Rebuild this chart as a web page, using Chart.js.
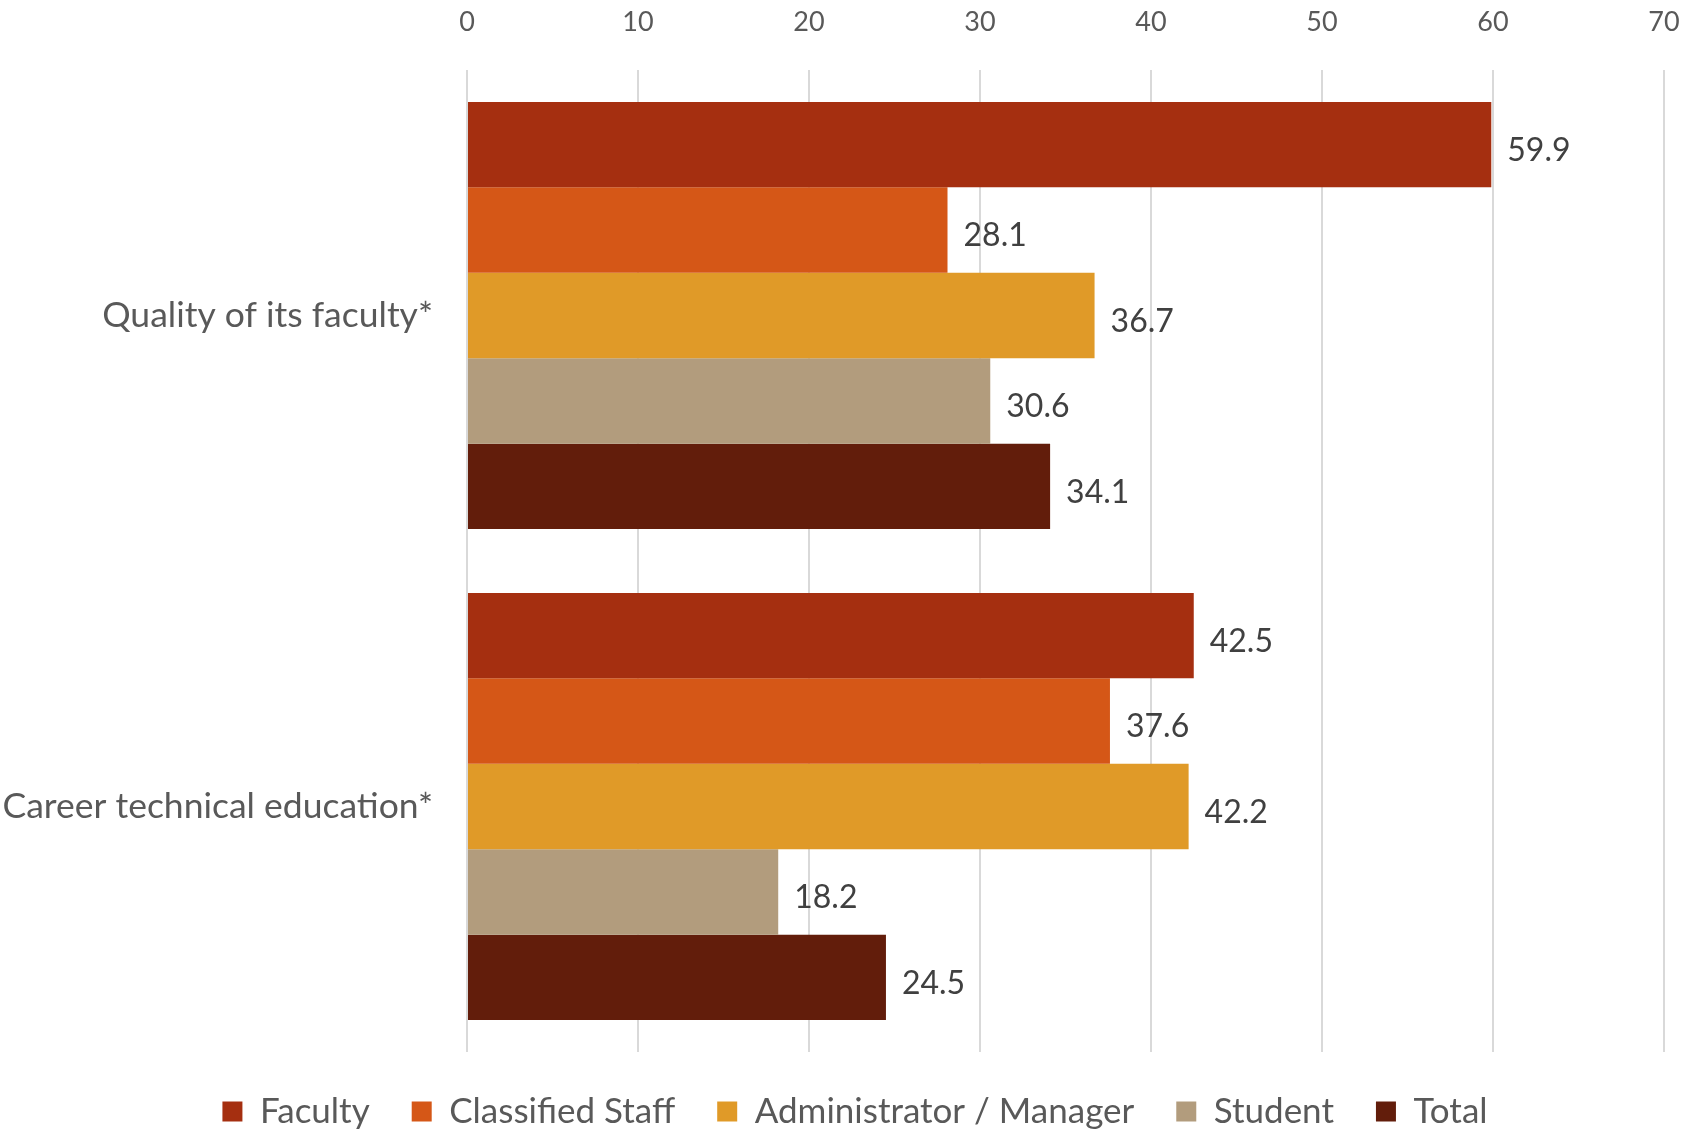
<!DOCTYPE html>
<html>
<head>
<meta charset="utf-8">
<script src="https://cdn.jsdelivr.net/npm/chart.js@4.4.1/dist/chart.umd.min.js"></script>
<style>
  html, body { margin: 0; padding: 0; background: #fff; }
  #wrap { width: 1690px; height: 1136px; position: relative; }
</style>
</head>
<body>
<div id="wrap"><canvas id="chart" width="1690" height="1136"></canvas></div>
<script>
const categories = ['Quality of its faculty*', 'Career technical education*'];
const seriesNames = ['Faculty', 'Classified Staff', 'Administrator / Manager', 'Student', 'Total'];
const faculty = [59.9, 42.5];
const classifiedStaff = [28.1, 37.6];
const adminManager = [36.7, 42.2];
const student = [30.6, 18.2];
const total = [34.1, 24.5];
const seriesColors = ['#A52F10', '#D55717', '#E09A28', '#B29C7D', '#621D0B'];
const xTicks = [0, 10, 20, 30, 40, 50, 60, 70];

const FONT = 'Lato, "Open Sans", sans-serif';

// value labels at the end of each bar
const valueLabels = {
    id: 'valueLabels',
    afterDatasetsDraw(chart) {
        const ctx = chart.ctx;
        ctx.save();
        ctx.font = '32px ' + FONT;
        ctx.fillStyle = '#404040';
        ctx.textAlign = 'left';
        ctx.textBaseline = 'middle';
        chart.data.datasets.forEach((ds, i) => {
            const meta = chart.getDatasetMeta(i);
            meta.data.forEach((bar, j) => {
                ctx.fillText(ds.data[j].toFixed(1), bar.x + 16, bar.y + 6);
            });
        });
        ctx.restore();
    }
};

// nudge the legend a bit to the right, like the original
const legendShift = {
    id: 'legendShift',
    afterLayout(chart) {
        if (chart.legend) {
            chart.legend.left += 23;
            chart.legend.right += 23;
        }
    }
};

const allSeries = [faculty, classifiedStaff, adminManager, student, total];

new Chart(document.getElementById('chart'), {
    type: 'bar',
    data: {
        labels: categories,
        datasets: allSeries.map((vals, i) => ({
            label: seriesNames[i],
            data: vals,
            backgroundColor: seriesColors[i],
            borderWidth: 0,
            barPercentage: 1.0,
            categoryPercentage: 0.87
        }))
    },
    options: {
        indexAxis: 'y',
        responsive: false,
        animation: false,
        layout: { padding: { left: 0, right: 26, top: 0, bottom: -3 } },
        plugins: {
            legend: {
                position: 'bottom',
                labels: {
                    font: { family: FONT, size: 35 },
                    color: '#595959',
                    boxWidth: 20,
                    boxHeight: 20,
                    padding: 42
                }
            },
            tooltip: { enabled: false }
        },
        scales: {
            x: {
                position: 'top',
                min: 0,
                max: 70,
                afterBuildTicks: (s) => { s.ticks = xTicks.map(v => ({ value: v })); },
                afterFit: (s) => { s.height = 70; },
                grid: { color: '#D9D9D9', lineWidth: 2, drawTicks: true, tickLength: 32, tickColor: 'rgba(0,0,0,0)' },
                border: { display: false },
                ticks: {
                    font: { family: FONT, size: 27 },
                    color: '#595959',
                    padding: 0
                }
            },
            y: {
                afterFit: (s) => { s.width = 467; },
                grid: { display: false },
                border: { display: false },
                ticks: {
                    font: { family: FONT, size: 35.5 },
                    color: '#595959',
                    padding: 26
                }
            }
        }
    },
    plugins: [valueLabels, legendShift]
});
</script>
</body>
</html>
